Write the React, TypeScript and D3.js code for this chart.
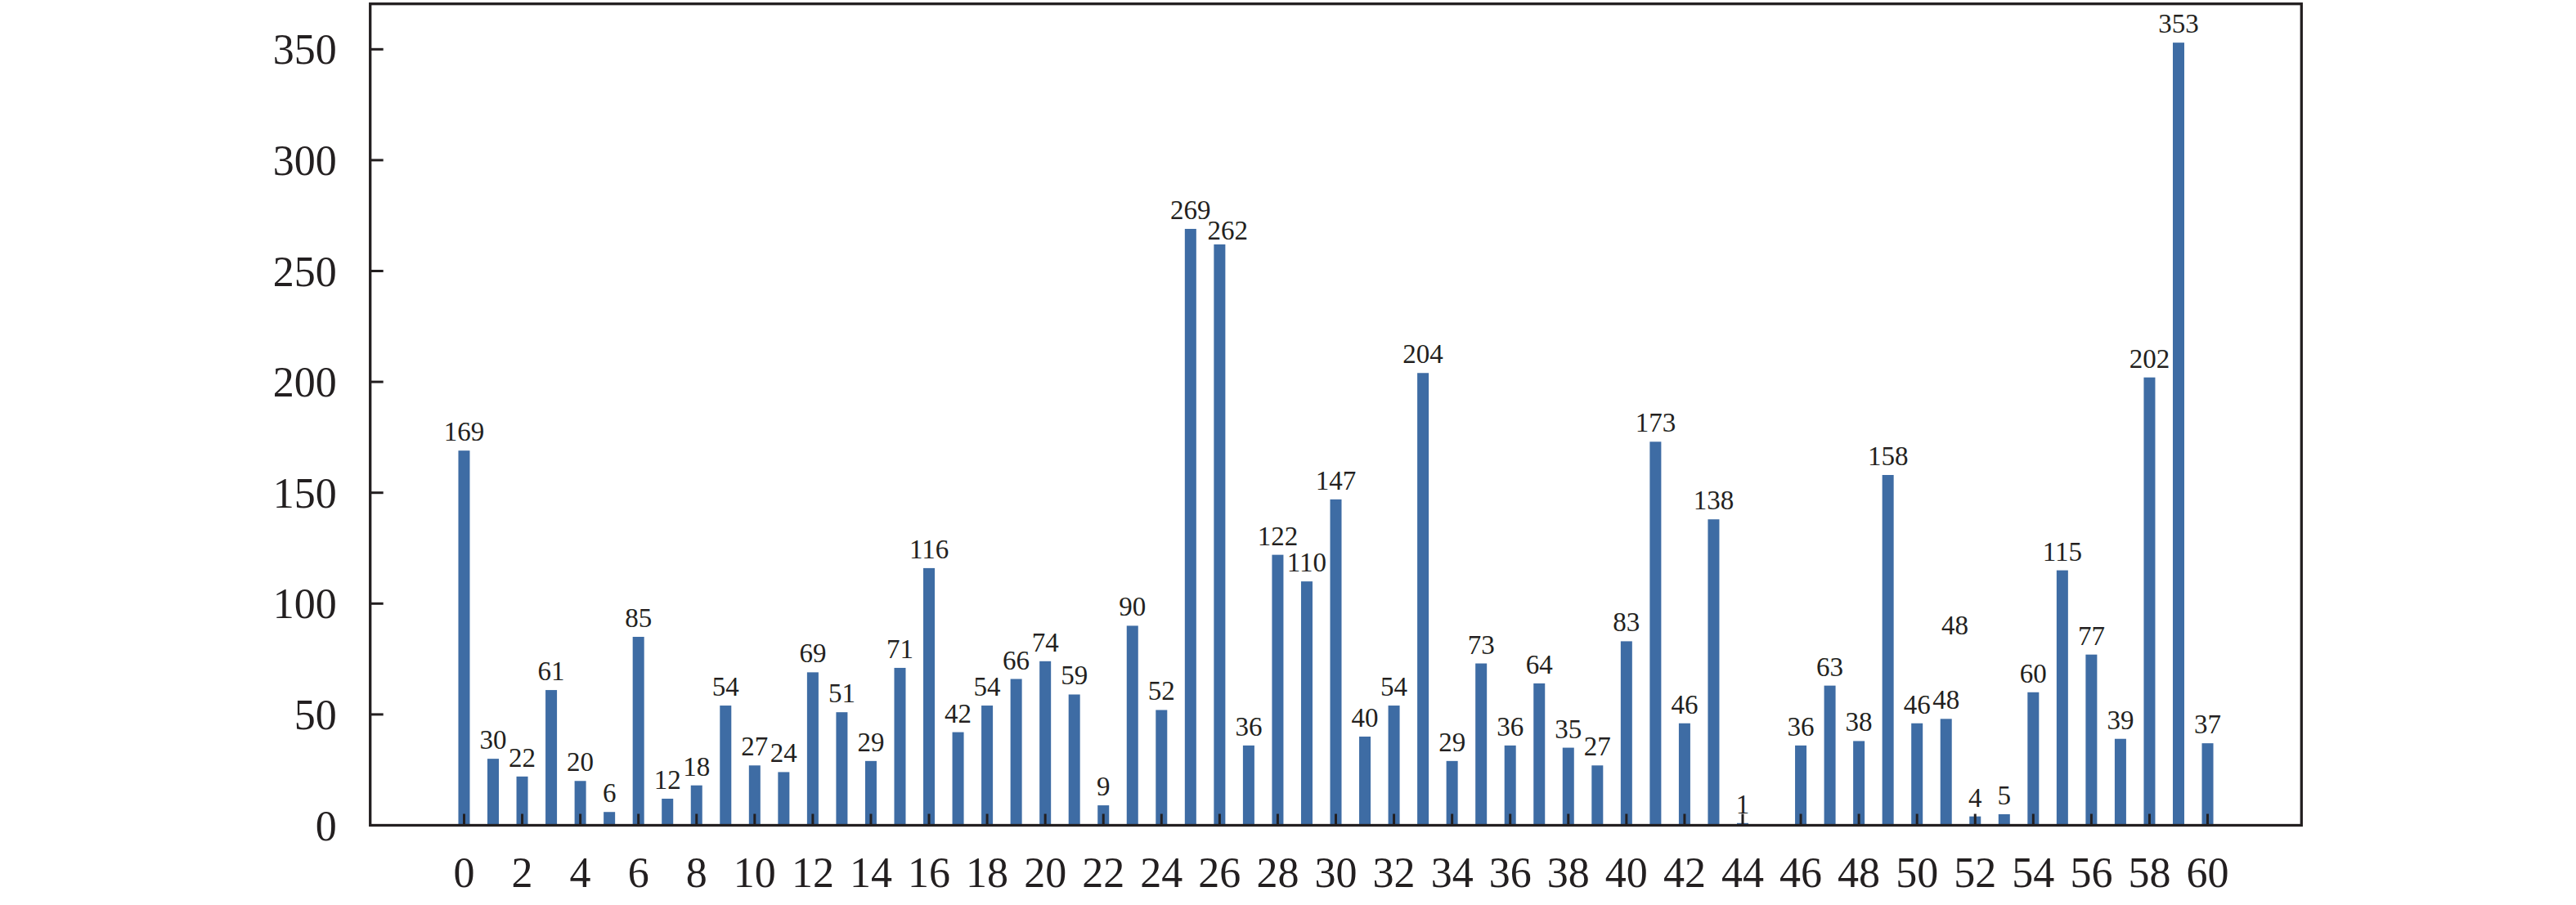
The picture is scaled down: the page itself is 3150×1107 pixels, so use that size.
import React from "react";
import * as d3 from "d3";

const categories: number[] = d3.range(0, 61);
const values: (number | null)[] = [
  169, 30, 22, 61, 20, 6, 85, 12, 18, 54,
  27, 24, 69, 51, 29, 71, 116, 42, 54, 66,
  74, 59, 9, 90, 52, 269, 262, 36, 122, 110,
  147, 40, 54, 204, 29, 73, 36, 64, 35, 27,
  83, 173, 46, 138, 1, null, 36, 63, 38, 158,
  46, 48, 4, 5, 60, 115, 77, 39, 202, 353,
  37,
];
const xTicks: number[] = d3.range(0, 61, 2);
const yTicks: number[] = [0, 50, 100, 150, 200, 250, 300, 350];
const strayLabels = [{ x: 51.3, y: 86, text: "48" }];

const W = 3150;
const H = 1107;
const left = 452.7;
const right = 2814.3;
const top = 4.7;
const bottom = 1009.5;

const FONT = "'Liberation Serif', 'Times New Roman', serif";
const INK = "#231f20";
const BAR = "#3e6ca4";
// per-label nudges (pixels) seen in the reference
const labelNudge: Record<number, [number, number]> = { 26: [10, 6] };

export default function App() {
  const x = d3.scaleLinear().domain([-3.23, 63.23]).range([left, right]);
  const y = d3.scaleLinear().domain([0, 370.5]).range([bottom, top]);
  const barW = 14;

  return (
    <svg
      width={W}
      height={H}
      style={{ position: "absolute", left: 0, top: 0, background: "#fff" }}
    >
      <rect x={0} y={0} width={W} height={H} fill="#fff" />
      {categories.map((c, i) => {
        const v = values[i];
        if (v === null || v === undefined) return null;
        const [dx, dy] = labelNudge[c] || [0, 0];
        return (
          <g key={c}>
            <rect
              x={x(c) - barW / 2}
              y={y(v)}
              width={barW}
              height={y(0) - y(v)}
              fill={BAR}
            />
            <text
              x={x(c) + dx}
              y={y(v) - 12 + dy}
              textAnchor="middle"
              fontFamily={FONT}
              fontSize={33}
              fill={INK}
            >
              {v}
            </text>
          </g>
        );
      })}
      {strayLabels.map((s, i) => (
        <text
          key={"s" + i}
          x={x(s.x)}
          y={y(s.y)}
          textAnchor="middle"
          fontFamily={FONT}
          fontSize={33}
          fill={INK}
        >
          {s.text}
        </text>
      ))}
      {xTicks.map((t) => (
        <g key={"xt" + t}>
          <line
            x1={x(t)}
            x2={x(t)}
            y1={bottom}
            y2={bottom - 14}
            stroke={INK}
            strokeWidth={3}
          />
          <text
            x={x(t)}
            y={1085}
            textAnchor="middle"
            fontFamily={FONT}
            fontSize={52}
            fill={INK}
          >
            {t}
          </text>
        </g>
      ))}
      {yTicks.map((t) => (
        <g key={"yt" + t}>
          <line
            x1={left}
            x2={left + 16}
            y1={y(t)}
            y2={y(t)}
            stroke={INK}
            strokeWidth={3}
          />
          <text
            x={left - 41}
            y={y(t)}
            dy="0.35em"
            textAnchor="end"
            fontFamily={FONT}
            fontSize={52}
            fill={INK}
          >
            {t}
          </text>
        </g>
      ))}
      <rect
        x={left}
        y={top}
        width={right - left}
        height={bottom - top}
        fill="none"
        stroke={INK}
        strokeWidth={3.3}
      />
    </svg>
  );
}
